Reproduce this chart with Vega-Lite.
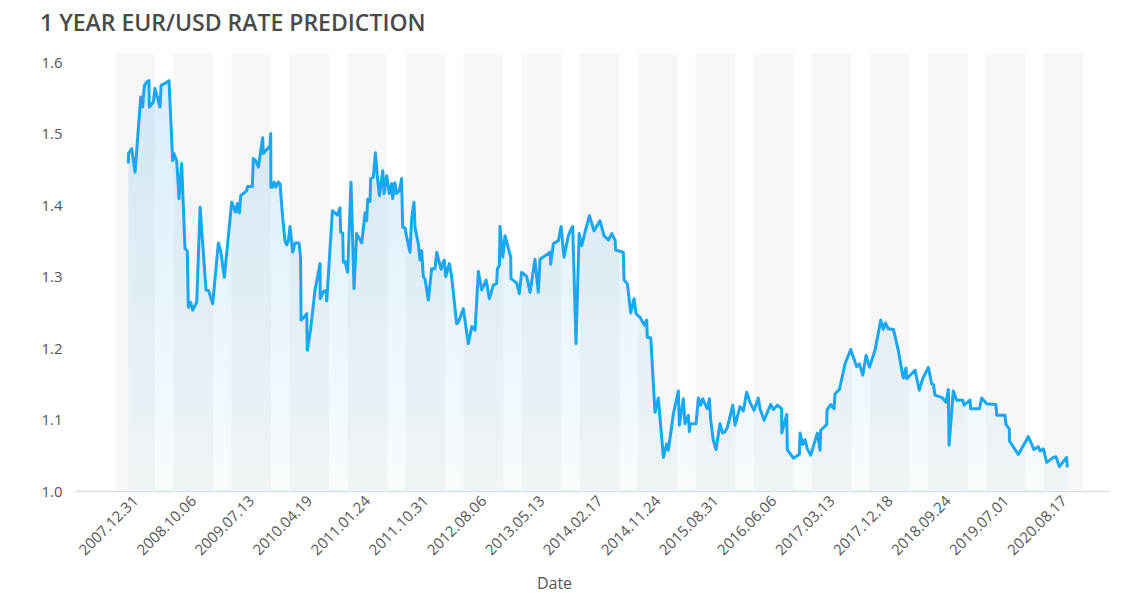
{
  "$schema": "https://vega.github.io/schema/vega-lite/v6.json",
  "width": 1035,
  "height": 438,
  "autosize": {"type": "none"},
  "padding": {"left": 75, "top": 53, "right": 30, "bottom": 115},
  "background": "white",
  "config": {
    "view": {"stroke": null},
    "font": "Open Sans",
    "axisX": {
      "labelAngle": -45,
      "labelAlign": "right",
      "labelBaseline": "middle",
      "labelPadding": 7,
      "labelFontSize": 15,
      "labelColor": "#555555",
      "labelFont": "Open Sans",
      "labelOverlap": false,
      "labelBound": false,
      "ticks": false,
      "grid": false,
      "domainColor": "#dddddd",
      "domainWidth": 1.5,
      "titleFontSize": 16,
      "titleFontWeight": "normal",
      "titleColor": "#555555",
      "titleFont": "Open Sans",
      "titleX": 479,
      "titleY": 92,
      "titleAlign": "center",
      "titleBaseline": "middle"
    },
    "axisY": {
      "domain": false,
      "ticks": false,
      "tickSize": 0,
      "grid": false,
      "labelAlign": "left",
      "labelBaseline": "middle",
      "labelPadding": 34,
      "labelFontSize": 15,
      "labelColor": "#555555",
      "labelFont": "Open Sans"
    }
  },
  "title": {
    "text": "1 YEAR EUR/USD RATE PREDICTION",
    "anchor": "start",
    "frame": "group",
    "dx": -35,
    "dy": 23,
    "offset": 22,
    "baseline": "alphabetic",
    "fontSize": 23,
    "fontWeight": 600,
    "color": "#4a4a4a",
    "font": "Open Sans"
  },
  "datasets": {
    "bands": [
      {"from": -13.7, "to": 13.6}, {"from": 26.3, "to": 53.6}, {"from": 66.3, "to": 93.6},
      {"from": 106.3, "to": 133.6}, {"from": 146.3, "to": 173.6}, {"from": 186.3, "to": 213.6},
      {"from": 226.3, "to": 253.6}, {"from": 266.3, "to": 293.6}, {"from": 306.3, "to": 333.6},
      {"from": 346.3, "to": 373.6}, {"from": 386.3, "to": 413.6}, {"from": 426.3, "to": 453.6},
      {"from": 466.3, "to": 493.6}, {"from": 506.3, "to": 533.6}, {"from": 546.3, "to": 573.6},
      {"from": 586.3, "to": 613.6}, {"from": 626.3, "to": 653.6}
    ],
    "rates": [
      {"n": -4.7, "rate": 1.458}, {"n": -4.6, "rate": 1.472}, {"n": -2.4, "rate": 1.479}, {"n": -0.1, "rate": 1.446},
      {"n": 3.8, "rate": 1.551}, {"n": 5.1, "rate": 1.537}, {"n": 6.3, "rate": 1.567}, {"n": 7.9, "rate": 1.572},
      {"n": 9.5, "rate": 1.574}, {"n": 9.7, "rate": 1.537}, {"n": 12.5, "rate": 1.544}, {"n": 13.6, "rate": 1.563},
      {"n": 17.1, "rate": 1.537}, {"n": 17.8, "rate": 1.567}, {"n": 22.8, "rate": 1.573}, {"n": 23.3, "rate": 1.574},
      {"n": 25.8, "rate": 1.462}, {"n": 26.7, "rate": 1.472}, {"n": 28.6, "rate": 1.462}, {"n": 30.2, "rate": 1.409},
      {"n": 32.0, "rate": 1.458}, {"n": 34.3, "rate": 1.339}, {"n": 35.9, "rate": 1.336}, {"n": 36.6, "rate": 1.257},
      {"n": 38.2, "rate": 1.264}, {"n": 39.6, "rate": 1.253}, {"n": 42.4, "rate": 1.264}, {"n": 44.7, "rate": 1.397},
      {"n": 48.8, "rate": 1.281}, {"n": 50.6, "rate": 1.280}, {"n": 53.4, "rate": 1.262}, {"n": 57.3, "rate": 1.347},
      {"n": 58.9, "rate": 1.336}, {"n": 61.4, "rate": 1.299}, {"n": 66.5, "rate": 1.404}, {"n": 69.2, "rate": 1.390},
      {"n": 70.4, "rate": 1.402}, {"n": 71.8, "rate": 1.389}, {"n": 72.7, "rate": 1.413}, {"n": 74.5, "rate": 1.416},
      {"n": 76.8, "rate": 1.420}, {"n": 77.5, "rate": 1.426}, {"n": 80.7, "rate": 1.426}, {"n": 81.4, "rate": 1.465},
      {"n": 83.0, "rate": 1.462}, {"n": 84.9, "rate": 1.453}, {"n": 87.8, "rate": 1.494}, {"n": 88.3, "rate": 1.472},
      {"n": 92.9, "rate": 1.483}, {"n": 93.4, "rate": 1.500}, {"n": 93.5, "rate": 1.425}, {"n": 94.7, "rate": 1.425},
      {"n": 95.7, "rate": 1.432}, {"n": 97.0, "rate": 1.425}, {"n": 98.6, "rate": 1.432}, {"n": 99.8, "rate": 1.430},
      {"n": 101.6, "rate": 1.383}, {"n": 103.2, "rate": 1.350}, {"n": 104.4, "rate": 1.344}, {"n": 105.5, "rate": 1.350},
      {"n": 106.7, "rate": 1.370}, {"n": 108.5, "rate": 1.334}, {"n": 110.1, "rate": 1.347}, {"n": 112.9, "rate": 1.347},
      {"n": 114.0, "rate": 1.325}, {"n": 114.3, "rate": 1.239}, {"n": 116.3, "rate": 1.243}, {"n": 118.2, "rate": 1.248},
      {"n": 118.6, "rate": 1.197}, {"n": 120.9, "rate": 1.227}, {"n": 123.9, "rate": 1.281}, {"n": 127.4, "rate": 1.318},
      {"n": 127.5, "rate": 1.269}, {"n": 129.7, "rate": 1.279}, {"n": 131.5, "rate": 1.280}, {"n": 132.0, "rate": 1.266},
      {"n": 135.9, "rate": 1.392}, {"n": 138.2, "rate": 1.388}, {"n": 139.3, "rate": 1.386}, {"n": 141.1, "rate": 1.396},
      {"n": 141.6, "rate": 1.362}, {"n": 143.0, "rate": 1.361}, {"n": 143.4, "rate": 1.320}, {"n": 144.6, "rate": 1.321},
      {"n": 146.4, "rate": 1.306}, {"n": 148.7, "rate": 1.432}, {"n": 150.8, "rate": 1.283}, {"n": 152.6, "rate": 1.360},
      {"n": 154.5, "rate": 1.353}, {"n": 156.1, "rate": 1.347}, {"n": 158.4, "rate": 1.389}, {"n": 159.5, "rate": 1.378},
      {"n": 160.2, "rate": 1.408}, {"n": 161.8, "rate": 1.405}, {"n": 162.3, "rate": 1.437}, {"n": 164.1, "rate": 1.439},
      {"n": 165.5, "rate": 1.473}, {"n": 166.9, "rate": 1.439}, {"n": 168.3, "rate": 1.413}, {"n": 170.6, "rate": 1.448},
      {"n": 171.5, "rate": 1.416}, {"n": 173.3, "rate": 1.441}, {"n": 175.1, "rate": 1.416}, {"n": 176.8, "rate": 1.430},
      {"n": 177.4, "rate": 1.409}, {"n": 179.0, "rate": 1.431}, {"n": 180.2, "rate": 1.416}, {"n": 182.0, "rate": 1.420},
      {"n": 183.6, "rate": 1.437}, {"n": 184.3, "rate": 1.369}, {"n": 185.9, "rate": 1.368}, {"n": 187.1, "rate": 1.355},
      {"n": 189.4, "rate": 1.334}, {"n": 190.5, "rate": 1.381}, {"n": 192.1, "rate": 1.404}, {"n": 192.8, "rate": 1.369},
      {"n": 195.1, "rate": 1.346}, {"n": 196.3, "rate": 1.323}, {"n": 197.4, "rate": 1.336}, {"n": 198.6, "rate": 1.299},
      {"n": 199.7, "rate": 1.297}, {"n": 202.0, "rate": 1.267}, {"n": 203.2, "rate": 1.290}, {"n": 204.3, "rate": 1.311},
      {"n": 206.6, "rate": 1.311}, {"n": 207.8, "rate": 1.334}, {"n": 208.9, "rate": 1.325}, {"n": 210.8, "rate": 1.310},
      {"n": 211.9, "rate": 1.318}, {"n": 213.0, "rate": 1.323}, {"n": 214.0, "rate": 1.300}, {"n": 216.5, "rate": 1.318},
      {"n": 218.1, "rate": 1.300}, {"n": 221.5, "rate": 1.234}, {"n": 222.7, "rate": 1.236}, {"n": 226.1, "rate": 1.255},
      {"n": 229.6, "rate": 1.206}, {"n": 231.9, "rate": 1.230}, {"n": 234.2, "rate": 1.225}, {"n": 236.5, "rate": 1.307},
      {"n": 238.8, "rate": 1.281}, {"n": 241.8, "rate": 1.295}, {"n": 244.1, "rate": 1.269}, {"n": 246.8, "rate": 1.288},
      {"n": 249.1, "rate": 1.290}, {"n": 249.6, "rate": 1.311}, {"n": 251.0, "rate": 1.316}, {"n": 251.4, "rate": 1.370},
      {"n": 253.3, "rate": 1.327}, {"n": 254.9, "rate": 1.357}, {"n": 258.8, "rate": 1.327}, {"n": 259.0, "rate": 1.297},
      {"n": 262.9, "rate": 1.291}, {"n": 264.7, "rate": 1.276}, {"n": 266.3, "rate": 1.306}, {"n": 269.8, "rate": 1.300},
      {"n": 272.1, "rate": 1.278}, {"n": 275.5, "rate": 1.324}, {"n": 277.8, "rate": 1.278}, {"n": 279.0, "rate": 1.324},
      {"n": 285.9, "rate": 1.334}, {"n": 286.3, "rate": 1.317}, {"n": 288.2, "rate": 1.346}, {"n": 291.6, "rate": 1.350},
      {"n": 293.5, "rate": 1.370}, {"n": 295.5, "rate": 1.327}, {"n": 298.5, "rate": 1.357}, {"n": 299.7, "rate": 1.363},
      {"n": 301.5, "rate": 1.370}, {"n": 303.8, "rate": 1.206}, {"n": 305.9, "rate": 1.360}, {"n": 307.7, "rate": 1.343},
      {"n": 310.0, "rate": 1.362}, {"n": 313.0, "rate": 1.385}, {"n": 316.2, "rate": 1.364}, {"n": 320.3, "rate": 1.378},
      {"n": 323.1, "rate": 1.357}, {"n": 326.1, "rate": 1.351}, {"n": 328.4, "rate": 1.360}, {"n": 330.7, "rate": 1.351},
      {"n": 331.1, "rate": 1.337}, {"n": 336.4, "rate": 1.334}, {"n": 336.9, "rate": 1.295}, {"n": 339.2, "rate": 1.290},
      {"n": 341.5, "rate": 1.249}, {"n": 343.8, "rate": 1.269}, {"n": 345.1, "rate": 1.248}, {"n": 347.9, "rate": 1.243},
      {"n": 350.9, "rate": 1.232}, {"n": 352.5, "rate": 1.239}, {"n": 352.9, "rate": 1.215}, {"n": 355.3, "rate": 1.214},
      {"n": 358.2, "rate": 1.110}, {"n": 360.5, "rate": 1.130}, {"n": 364.0, "rate": 1.047}, {"n": 366.3, "rate": 1.066},
      {"n": 367.4, "rate": 1.057}, {"n": 370.9, "rate": 1.108}, {"n": 374.3, "rate": 1.140}, {"n": 375.0, "rate": 1.092},
      {"n": 377.8, "rate": 1.129}, {"n": 378.9, "rate": 1.094}, {"n": 381.2, "rate": 1.106}, {"n": 381.9, "rate": 1.083},
      {"n": 382.4, "rate": 1.094}, {"n": 386.5, "rate": 1.094}, {"n": 388.1, "rate": 1.130}, {"n": 389.7, "rate": 1.120},
      {"n": 391.1, "rate": 1.129}, {"n": 394.3, "rate": 1.115}, {"n": 395.7, "rate": 1.129}, {"n": 396.6, "rate": 1.099},
      {"n": 398.4, "rate": 1.071}, {"n": 400.3, "rate": 1.058}, {"n": 403.0, "rate": 1.094}, {"n": 404.9, "rate": 1.081},
      {"n": 406.5, "rate": 1.083}, {"n": 408.1, "rate": 1.089}, {"n": 411.8, "rate": 1.120}, {"n": 413.4, "rate": 1.092},
      {"n": 416.8, "rate": 1.118}, {"n": 419.1, "rate": 1.112}, {"n": 421.4, "rate": 1.138}, {"n": 423.7, "rate": 1.124},
      {"n": 426.5, "rate": 1.113}, {"n": 429.4, "rate": 1.130}, {"n": 430.6, "rate": 1.115}, {"n": 433.4, "rate": 1.099},
      {"n": 437.9, "rate": 1.121}, {"n": 439.8, "rate": 1.114}, {"n": 442.5, "rate": 1.120}, {"n": 445.5, "rate": 1.115},
      {"n": 445.6, "rate": 1.081}, {"n": 449.0, "rate": 1.107}, {"n": 449.4, "rate": 1.058}, {"n": 453.6, "rate": 1.046},
      {"n": 457.7, "rate": 1.051}, {"n": 458.2, "rate": 1.081}, {"n": 460.0, "rate": 1.065}, {"n": 461.6, "rate": 1.072},
      {"n": 463.2, "rate": 1.059}, {"n": 465.5, "rate": 1.050}, {"n": 470.1, "rate": 1.081}, {"n": 472.0, "rate": 1.057},
      {"n": 472.4, "rate": 1.085}, {"n": 476.6, "rate": 1.093}, {"n": 476.7, "rate": 1.113}, {"n": 479.3, "rate": 1.121},
      {"n": 481.6, "rate": 1.115}, {"n": 482.3, "rate": 1.136}, {"n": 485.3, "rate": 1.142}, {"n": 489.2, "rate": 1.178},
      {"n": 493.1, "rate": 1.198}, {"n": 497.2, "rate": 1.174}, {"n": 499.1, "rate": 1.178}, {"n": 501.4, "rate": 1.162},
      {"n": 503.7, "rate": 1.190}, {"n": 506.0, "rate": 1.173}, {"n": 509.9, "rate": 1.197}, {"n": 513.8, "rate": 1.239},
      {"n": 515.6, "rate": 1.226}, {"n": 517.0, "rate": 1.235}, {"n": 519.0, "rate": 1.227}, {"n": 522.5, "rate": 1.226},
      {"n": 525.9, "rate": 1.197}, {"n": 528.9, "rate": 1.162}, {"n": 529.4, "rate": 1.158}, {"n": 531.2, "rate": 1.172},
      {"n": 531.7, "rate": 1.157}, {"n": 537.4, "rate": 1.169}, {"n": 540.4, "rate": 1.141}, {"n": 542.7, "rate": 1.157},
      {"n": 546.6, "rate": 1.173}, {"n": 548.9, "rate": 1.150}, {"n": 550.1, "rate": 1.149}, {"n": 551.2, "rate": 1.134},
      {"n": 555.8, "rate": 1.131}, {"n": 558.8, "rate": 1.124}, {"n": 560.4, "rate": 1.142}, {"n": 560.9, "rate": 1.064},
      {"n": 563.8, "rate": 1.140}, {"n": 566.1, "rate": 1.127}, {"n": 570.3, "rate": 1.127}, {"n": 571.2, "rate": 1.120},
      {"n": 575.3, "rate": 1.127}, {"n": 575.8, "rate": 1.115}, {"n": 581.8, "rate": 1.115}, {"n": 583.4, "rate": 1.130},
      {"n": 586.8, "rate": 1.122}, {"n": 593.2, "rate": 1.121}, {"n": 593.7, "rate": 1.106}, {"n": 599.4, "rate": 1.106},
      {"n": 600.1, "rate": 1.093}, {"n": 602.4, "rate": 1.087}, {"n": 602.5, "rate": 1.070}, {"n": 608.6, "rate": 1.051},
      {"n": 615.5, "rate": 1.076}, {"n": 619.4, "rate": 1.058}, {"n": 622.4, "rate": 1.062}, {"n": 623.6, "rate": 1.056},
      {"n": 625.9, "rate": 1.059}, {"n": 628.2, "rate": 1.040}, {"n": 632.8, "rate": 1.047}, {"n": 634.6, "rate": 1.048},
      {"n": 636.9, "rate": 1.034}, {"n": 641.9, "rate": 1.047}, {"n": 642.4, "rate": 1.033}
    ]
  },
  "layer": [
    {
      "data": {"name": "bands"},
      "mark": {"type": "rect", "color": "#f7f7f7"},
      "encoding": {
        "x": {
          "field": "from", "type": "quantitative",
          "scale": {"domain": [-41.5, 671.8], "nice": false, "zero": false},
          "axis": {
            "title": "Date",
            "values": [0, 40, 80, 120, 160, 200, 240, 280, 320, 360, 400, 440, 480, 520, 560, 600, 640],
            "labelExpr": "['2007.12.31','2008.10.06','2009.07.13','2010.04.19','2011.01.24','2011.10.31','2012.08.06','2013.05.13','2014.02.17','2014.11.24','2015.08.31','2016.06.06','2017.03.13','2017.12.18','2018.09.24','2019.07.01','2020.08.17'][round(datum.value/40)]"
          }
        },
        "x2": {"field": "to"},
        "y": {
          "datum": 1.0, "type": "quantitative",
          "scale": {"domain": [1.0, 1.6126], "nice": false, "zero": false},
          "axis": {"title": null, "values": [1.0, 1.1, 1.2, 1.3, 1.4, 1.5, 1.6], "format": ".1f"}
        },
        "y2": {"datum": 1.6126}
      }
    },
    {
      "data": {"name": "rates"},
      "mark": {
        "type": "area",
        "color": {
          "gradient": "linear", "x1": 0, "y1": 0, "x2": 0, "y2": 1,
          "stops": [
            {"offset": 0, "color": "rgba(30,150,225,0.17)"},
            {"offset": 1, "color": "rgba(30,150,225,0.03)"}
          ]
        }
      },
      "encoding": {
        "x": {
          "field": "n", "type": "quantitative",
          "scale": {"domain": [-41.5, 671.8], "nice": false, "zero": false},
          "axis": {
            "title": "Date",
            "values": [0, 40, 80, 120, 160, 200, 240, 280, 320, 360, 400, 440, 480, 520, 560, 600, 640],
            "labelExpr": "['2007.12.31','2008.10.06','2009.07.13','2010.04.19','2011.01.24','2011.10.31','2012.08.06','2013.05.13','2014.02.17','2014.11.24','2015.08.31','2016.06.06','2017.03.13','2017.12.18','2018.09.24','2019.07.01','2020.08.17'][round(datum.value/40)]"
          }
        },
        "y": {
          "field": "rate", "type": "quantitative",
          "scale": {"domain": [1.0, 1.6126], "nice": false, "zero": false},
          "axis": {"title": null, "values": [1.0, 1.1, 1.2, 1.3, 1.4, 1.5, 1.6], "format": ".1f"}
        },
        "y2": {"datum": 1.0}
      }
    },
    {
      "data": {"name": "rates"},
      "mark": {"type": "line", "color": "#1aa7f2", "strokeWidth": 3, "strokeJoin": "round"},
      "encoding": {
        "x": {
          "field": "n", "type": "quantitative",
          "scale": {"domain": [-41.5, 671.8], "nice": false, "zero": false},
          "axis": {
            "title": "Date",
            "values": [0, 40, 80, 120, 160, 200, 240, 280, 320, 360, 400, 440, 480, 520, 560, 600, 640],
            "labelExpr": "['2007.12.31','2008.10.06','2009.07.13','2010.04.19','2011.01.24','2011.10.31','2012.08.06','2013.05.13','2014.02.17','2014.11.24','2015.08.31','2016.06.06','2017.03.13','2017.12.18','2018.09.24','2019.07.01','2020.08.17'][round(datum.value/40)]"
          }
        },
        "y": {
          "field": "rate", "type": "quantitative",
          "scale": {"domain": [1.0, 1.6126], "nice": false, "zero": false},
          "axis": {"title": null, "values": [1.0, 1.1, 1.2, 1.3, 1.4, 1.5, 1.6], "format": ".1f"}
        }
      }
    }
  ]
}
